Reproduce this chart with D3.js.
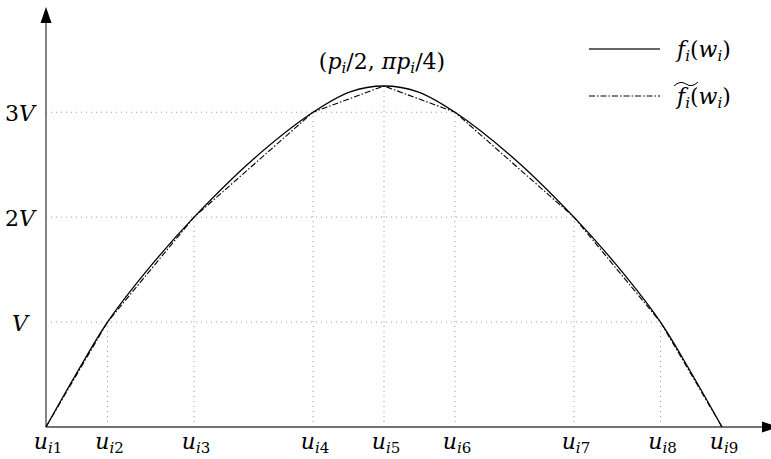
<!DOCTYPE html>
<html><head><meta charset="utf-8">
<script src="https://cdn.jsdelivr.net/npm/d3@7/dist/d3.min.js"></script>
<style>body{margin:0;background:#fff}svg{display:block}</style>
</head><body><svg id="c" width="771" height="459" font-family="'DejaVu Serif', 'Liberation Serif', serif"></svg>
<script>
// knot positions u_i1..u_i9 (fraction of p_i)
const knotW = [0, 0.091, 0.219, 0.395, 0.5, 0.605, 0.781, 0.909, 1];
// piecewise-linear approximation values at knots (units of V)
const knotF = [0, 1, 2, 3, 3.25, 3, 2, 1, 0];
const knotLabels = ["1","2","3","4","5","6","7","8","9"];
// sampled points of the smooth curve f_i(w_i)
const curveW = [0, 0.045, 0.091, 0.155, 0.219, 0.307, 0.395, 0.45, 0.5, 0.55, 0.605, 0.693, 0.781, 0.845, 0.909, 0.955, 1];
const curveF = [0, 0.51, 1, 1.535, 2, 2.555, 3, 3.195, 3.25, 3.195, 3, 2.555, 2, 1.535, 1, 0.51, 0];
// y tick levels and labels
const yTicks = [1, 2, 3];
const yLabels = ["", "2", "3"];

const svg = d3.select("#c");
const x = d3.scaleLinear().domain([0, 1]).range([46, 722]);
const y = d3.scaleLinear().domain([0, 3.25]).range([427, 86]);

const grid = "#9a9a9a";
yTicks.forEach(v => {
  const idx = knotF.lastIndexOf(v);
  svg.append("line").attr("x1", x(0)).attr("x2", x(knotW[idx]))
    .attr("y1", y(v)).attr("y2", y(v))
    .attr("stroke", grid).attr("stroke-width", 1).attr("stroke-dasharray", "1,4");
});
knotW.forEach((w, i) => {
  if (i === 0 || i === knotW.length - 1) return;
  svg.append("line").attr("x1", x(w)).attr("x2", x(w))
    .attr("y1", y(0)).attr("y2", y(knotF[i]))
    .attr("stroke", grid).attr("stroke-width", 1).attr("stroke-dasharray", "1,4");
});

// axes
svg.append("line").attr("x1", x(0)).attr("x2", 762).attr("y1", y(0)).attr("y2", y(0))
  .attr("stroke", "#444").attr("stroke-width", 1.3);
svg.append("line").attr("x1", x(0)).attr("x2", x(0)).attr("y1", y(0)).attr("y2", 20)
  .attr("stroke", "#444").attr("stroke-width", 1.3);
svg.append("path").attr("d", `M${x(0)},7 L${x(0)-5.5},23 L${x(0)+5.5},23 Z`).attr("fill", "#000");
svg.append("path").attr("d", `M778,${y(0)} L762,${y(0)-5.5} L762,${y(0)+5.5} Z`).attr("fill", "#000");

// curves
svg.append("path").datum(curveW.map((w, i) => [w, curveF[i]]))
  .attr("d", d3.line().x(d => x(d[0])).y(d => y(d[1])).curve(d3.curveCatmullRom.alpha(0.5)))
  .attr("fill", "none").attr("stroke", "#000").attr("stroke-width", 1.3);
svg.append("path").datum(knotW.map((w, i) => [w, knotF[i]]))
  .attr("d", d3.line().x(d => x(d[0])).y(d => y(d[1])))
  .attr("fill", "none").attr("stroke", "#000").attr("stroke-width", 1.1)
  .attr("stroke-dasharray", "6,2,1.5,2");

const fs = 22, sub = 15;
knotW.forEach((w, i) => {
  const t = svg.append("text").attr("x", x(w) + 2).attr("y", 449).attr("text-anchor", "middle")
    .attr("font-size", fs);
  t.append("tspan").attr("font-style", "italic").text("u");
  t.append("tspan").attr("font-style", "italic").attr("font-size", sub).attr("dy", 4).text("i");
  t.append("tspan").attr("font-size", sub).text(knotLabels[i]);
});
yTicks.forEach((v, i) => {
  const t = svg.append("text").attr("x", 20).attr("y", y(v) + 9).attr("text-anchor", "middle")
    .attr("font-size", fs);
  if (yLabels[i]) t.append("tspan").text(yLabels[i]);
  t.append("tspan").attr("font-style", "italic").text("V");
});

{
  const t = svg.append("text").attr("x", x(0.5) - 2).attr("y", 69).attr("text-anchor", "middle").attr("font-size", fs);
  t.append("tspan").text("(");
  t.append("tspan").attr("font-style", "italic").text("p");
  t.append("tspan").attr("font-style", "italic").attr("font-size", sub).attr("dy", 4).text("i");
  t.append("tspan").attr("dy", -4).text("/2, ");
  t.append("tspan").attr("font-style", "italic").text("πp");
  t.append("tspan").attr("font-style", "italic").attr("font-size", sub).attr("dy", 4).text("i");
  t.append("tspan").attr("dy", -4).text("/4)");
}

function fLabel(yb) {
  const t = svg.append("text").attr("x", 677).attr("y", yb).attr("font-size", fs);
  t.append("tspan").attr("font-style", "italic").text("f");
  t.append("tspan").attr("font-style", "italic").attr("font-size", sub).attr("dy", 4).text("i");
  t.append("tspan").attr("dy", -4).text("(");
  t.append("tspan").attr("font-style", "italic").text("w");
  t.append("tspan").attr("font-style", "italic").attr("font-size", sub).attr("dy", 4).text("i");
  t.append("tspan").attr("dy", -4).text(")");
}
svg.append("line").attr("x1", 589).attr("x2", 660).attr("y1", 49).attr("y2", 49)
  .attr("stroke", "#333").attr("stroke-width", 1.3);
fLabel(57);
svg.append("line").attr("x1", 589).attr("x2", 660).attr("y1", 96).attr("y2", 96)
  .attr("stroke", "#000").attr("stroke-width", 1.1).attr("stroke-dasharray", "6,2,1.5,2");
fLabel(104);
svg.append("path").attr("d", "M674,86 Q680,80 686,84 T698,82").attr("fill", "none")
  .attr("stroke", "#000").attr("stroke-width", 1);
</script></body></html>
